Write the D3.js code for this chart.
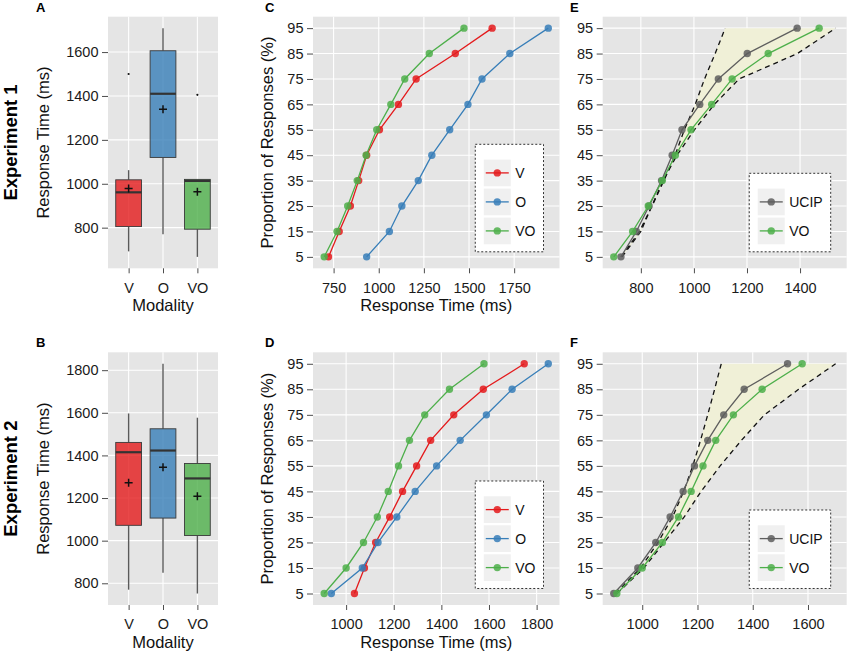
<!DOCTYPE html>
<html>
<head>
<meta charset="utf-8">
<script src="https://cdn.jsdelivr.net/npm/d3@7"></script>
<style>
body { margin: 0; background: #fff; }
text { font-family: "Liberation Sans", Arial, sans-serif; }
</style>
</head>
<body>
<script>
// ---- data ----
var modalities = ["V", "O", "VO"];
var levels = [5, 15, 25, 35, 45, 55, 65, 75, 85, 95];

// Experiment 1 boxplots (ms)
var exp1Min = [692, 770, 667];
var exp1Q1 = [805, 1120, 793];
var exp1Median = [961, 1410, 1013];
var exp1Q3 = [1018, 1606, 1020];
var exp1Max = [1062, 1709, 1020];
var exp1Mean = [978, 1340, 964];
var exp1Outliers = [[1500], [], [1405]];

// Experiment 2 boxplots (ms)
var exp2Min = [770, 850, 752];
var exp2Q1 = [1072, 1106, 1024];
var exp2Median = [1415, 1423, 1292];
var exp2Q3 = [1461, 1525, 1362];
var exp2Max = [1597, 1830, 1577];
var exp2Mean = [1272, 1345, 1208];
var exp2Outliers = [[], [], []];

// quantiles, Experiment 1
var exp1V = [722, 781, 843, 889, 933, 1004, 1109, 1207, 1424, 1628];
var exp1O = [933, 1059, 1128, 1219, 1294, 1393, 1494, 1572, 1726, 1939];
var exp1VO = [698, 769, 828, 881, 930, 989, 1067, 1144, 1280, 1472];
var exp1UCIP = [725, 783, 831, 878, 918, 955, 1022, 1092, 1201, 1389];
var exp1Upper = [725, 795, 842, 887, 929, 964, 1005, 1040, 1080, 1118];
var exp1Lower = [729, 800, 841, 884, 936, 1002, 1077, 1170, 1390, 1534];

// quantiles, Experiment 2
var exp2V = [1035, 1077, 1124, 1183, 1237, 1296, 1355, 1452, 1576, 1748];
var exp2O = [938, 1068, 1134, 1213, 1290, 1380, 1479, 1589, 1697, 1849];
var exp2VO = [908, 1000, 1073, 1131, 1177, 1220, 1266, 1330, 1434, 1579];
var exp2UCIP = [897, 984, 1049, 1101, 1148, 1189, 1237, 1295, 1369, 1526];
var exp2Upper = [903, 994, 1057, 1110, 1150, 1183, 1211, 1237, 1262, 1286];
var exp2Lower = [909, 1006, 1079, 1152, 1213, 1282, 1359, 1442, 1566, 1700];

var boxTicks1 = [800, 1000, 1200, 1400, 1600];
var boxTicks2 = [800, 1000, 1200, 1400, 1600, 1800];
var cdfTicks1 = [750, 1000, 1250, 1500, 1750];
var cdfTicks2 = [1000, 1200, 1400, 1600, 1800];
var raceTicks1 = [800, 1000, 1200, 1400];
var raceTicks2 = [1000, 1200, 1400, 1600];

var colors = { V: "#E41A1C", O: "#377EB8", VO: "#4DAF4A", UCIP: "#5e5e5e" };

// ---- layout ----
var svg = d3.select("body").append("svg")
	.attr("width", 850)
	.attr("height", 656);
svg.append("rect").attr("width", 850).attr("height", 656).attr("fill", "#fff");

var rows = [{ top: 16.7, bottom: 268.3 }, { top: 352.3, bottom: 605 }];
var cols = { box: [108, 218], cdf: [313, 559.5], race: [602.7, 846.7] };
var fmt = d3.format("d");

function expand(lo, hi) {
	var d = (hi - lo) * 0.05;
	return [lo - d, hi + d];
}

function styleAxis(a) {
	a.select(".domain").remove();
	a.selectAll(".tick line").attr("stroke", "#4d4d4d").attr("stroke-width", 1);
	a.selectAll(".tick text").attr("fill", "#1a1a1a").attr("font-size", 14.5);
}

function letter(x, y, s) {
	svg.append("text").attr("x", x).attr("y", y)
		.attr("font-size", 13).attr("font-weight", "bold").text(s);
}

function yTitle(g, x, h, s) {
	g.append("text")
		.attr("transform", "translate(" + x + "," + (h / 2) + ") rotate(-90)")
		.attr("text-anchor", "middle").attr("font-size", 16.5).attr("fill", "#111")
		.text(s);
}

function xTitle(g, w, h, s) {
	g.append("text").attr("x", w / 2).attr("y", h + 43)
		.attr("text-anchor", "middle").attr("font-size", 16.5).attr("fill", "#111")
		.text(s);
}

// ---- box plot panels ----
function boxPanel(row, stats, ticks, lab, expLabel) {
	var x0 = cols.box[0], w = cols.box[1] - cols.box[0];
	var h = row.bottom - row.top;
	var g = svg.append("g").attr("transform", "translate(" + x0 + "," + row.top + ")");

	var all = stats.min.concat(stats.max, d3.merge(stats.out));
	var y = d3.scaleLinear().domain(expand(d3.min(all), d3.max(all))).range([h, 0]);
	var x = d3.scalePoint().domain(modalities).range([0, w]).padding(0.6);
	var bw = x.step() * 0.75;

	g.append("rect").attr("width", w).attr("height", h).attr("fill", "#e5e5e5");
	g.selectAll(".gy").data(ticks).enter().append("line")
		.attr("x1", 0).attr("x2", w)
		.attr("y1", function(d) { return y(d); }).attr("y2", function(d) { return y(d); })
		.attr("stroke", "#fff").attr("stroke-width", 1.1);
	g.selectAll(".gx").data(modalities).enter().append("line")
		.attr("x1", function(d) { return x(d); }).attr("x2", function(d) { return x(d); })
		.attr("y1", 0).attr("y2", h)
		.attr("stroke", "#fff").attr("stroke-width", 1.1);

	modalities.forEach(function(m, i) {
		var cx = x(m);
		g.append("line").attr("x1", cx).attr("x2", cx)
			.attr("y1", y(stats.max[i])).attr("y2", y(stats.q3[i]))
			.attr("stroke", "#5a5a5a").attr("stroke-width", 1.4);
		g.append("line").attr("x1", cx).attr("x2", cx)
			.attr("y1", y(stats.q1[i])).attr("y2", y(stats.min[i]))
			.attr("stroke", "#5a5a5a").attr("stroke-width", 1.4);
		g.append("rect")
			.attr("x", cx - bw / 2).attr("width", bw)
			.attr("y", y(stats.q3[i])).attr("height", y(stats.q1[i]) - y(stats.q3[i]))
			.attr("fill", colors[m]).attr("fill-opacity", 0.8)
			.attr("stroke", "#3a3a3a").attr("stroke-width", 0.9);
		g.append("line").attr("x1", cx - bw / 2).attr("x2", cx + bw / 2)
			.attr("y1", y(stats.med[i])).attr("y2", y(stats.med[i]))
			.attr("stroke", "#333").attr("stroke-width", 2.2);
		var my = y(stats.mean[i]);
		g.append("path")
			.attr("d", "M" + (cx - 4) + "," + my + "H" + (cx + 4) + "M" + cx + "," + (my - 4) + "V" + (my + 4))
			.attr("stroke", "#111").attr("stroke-width", 1.5);
		stats.out[i].forEach(function(v) {
			g.append("circle").attr("cx", cx).attr("cy", y(v)).attr("r", 1.1).attr("fill", "#111");
		});
	});

	var ay = g.append("g").call(d3.axisLeft(y).tickValues(ticks).tickFormat(fmt).tickSize(6).tickPadding(3.5));
	styleAxis(ay);
	var ax = g.append("g").attr("transform", "translate(0," + h + ")")
		.call(d3.axisBottom(x).tickSize(5).tickPadding(9));
	styleAxis(ax);

	yTitle(g, -59, h, "Response Time (ms)");
	xTitle(g, w, h, "Modality");

	g.append("text")
		.attr("transform", "translate(" + (-91.5) + "," + (h / 2) + ") rotate(-90)")
		.attr("text-anchor", "middle").attr("font-size", 18.5).attr("font-weight", "bold")
		.text(expLabel);
	letter(36, row.top - 5, lab);
}

// ---- quantile panels ----
function cdfPanel(row, col, series, ticks, opts) {
	var x0 = col[0], w = col[1] - col[0];
	var h = row.bottom - row.top;
	var g = svg.append("g").attr("transform", "translate(" + x0 + "," + row.top + ")");

	var vals = d3.merge(series.map(function(s) { return s.vals; }));
	if (opts.bounds) vals = vals.concat(opts.bounds[0], opts.bounds[1]);
	var x = d3.scaleLinear().domain(expand(d3.min(vals), d3.max(vals))).range([0, w]);
	var y = d3.scaleLinear().domain(expand(5, 95)).range([h, 0]);

	g.append("rect").attr("width", w).attr("height", h).attr("fill", "#e5e5e5");
	g.selectAll(".gy").data(levels).enter().append("line")
		.attr("x1", 0).attr("x2", w)
		.attr("y1", function(d) { return y(d); }).attr("y2", function(d) { return y(d); })
		.attr("stroke", "#fff").attr("stroke-width", 1.1);
	g.selectAll(".gx").data(ticks).enter().append("line")
		.attr("x1", function(d) { return x(d); }).attr("x2", function(d) { return x(d); })
		.attr("y1", 0).attr("y2", h)
		.attr("stroke", "#fff").attr("stroke-width", 1.1);

	var line = d3.line().x(function(d) { return x(d[0]); }).y(function(d) { return y(d[1]); });

	if (opts.bounds) {
		var up = opts.bounds[0], lo = opts.bounds[1];
		var poly = levels.map(function(l, i) { return [x(up[i]), y(l)]; })
			.concat(levels.map(function(l, i) { return [x(lo[i]), y(l)]; }).reverse());
		g.append("path").attr("d", "M" + poly.join("L") + "Z")
			.attr("fill", "#f0f0d7");
		[up, lo].forEach(function(b) {
			g.append("path")
				.attr("d", line(d3.zip(b, levels)))
				.attr("fill", "none").attr("stroke", "#111").attr("stroke-width", 1.3)
				.attr("stroke-dasharray", "5,4");
		});
	}

	series.forEach(function(s) {
		g.append("path").attr("d", line(d3.zip(s.vals, levels)))
			.attr("fill", "none").attr("stroke", colors[s.name]).attr("stroke-width", 1.3);
		g.selectAll(null).data(d3.zip(s.vals, levels)).enter().append("circle")
			.attr("cx", function(d) { return x(d[0]); })
			.attr("cy", function(d) { return y(d[1]); })
			.attr("r", 3.7).attr("fill", colors[s.name]).attr("fill-opacity", 0.85);
	});

	var ay = g.append("g").call(d3.axisLeft(y).tickValues(levels).tickSize(6).tickPadding(3.5));
	styleAxis(ay);
	var ax = g.append("g").attr("transform", "translate(0," + h + ")")
		.call(d3.axisBottom(x).tickValues(ticks).tickFormat(fmt).tickSize(5).tickPadding(9));
	styleAxis(ax);

	if (opts.yTitle) yTitle(g, -40, h, "Proportion of Responses (%)");
	if (opts.xTitle) xTitle(g, w, h, "Response Time (ms)");

	// legend, anchored bottom right
	var lg = g.append("g");
	var labels = lg.selectAll(null).data(series).enter().append("text")
		.attr("font-size", 14).attr("fill", "#111").text(function(d) { return d.name; });
	var tw = d3.max(labels.nodes(), function(n) { return n.getComputedTextLength(); });
	var lw = 8.5 + 27 + 4.5 + tw + 8, lh = 15.3 + series.length * 29 - 2.3 + 7.5;
	var lx = w - 16 - lw, ly = h - 16.5 - lh;
	lg.insert("rect", "text").attr("x", lx).attr("y", ly).attr("width", lw).attr("height", lh)
		.attr("fill", "#fff").attr("stroke", "#333").attr("stroke-width", 1).attr("stroke-dasharray", "2,2");
	series.forEach(function(s, i) {
		var ky = ly + 15.3 + i * 29, kx = lx + 8.5;
		lg.insert("rect", "text").attr("x", kx).attr("y", ky).attr("width", 27).attr("height", 26.7).attr("fill", "#f0f0f0");
		lg.append("line").attr("x1", kx + 2).attr("x2", kx + 25)
			.attr("y1", ky + 13.3).attr("y2", ky + 13.3)
			.attr("stroke", colors[s.name]).attr("stroke-width", 1.3);
		lg.append("circle").attr("cx", kx + 13.5).attr("cy", ky + 13.3).attr("r", 3.7)
			.attr("fill", colors[s.name]).attr("fill-opacity", 0.85);
	});
	labels.attr("x", lx + 8.5 + 27 + 4.5)
		.attr("y", function(d, i) { return ly + 15.3 + i * 29 + 18.3; });

	letter(opts.lx, row.top - 5, opts.letter);
}

boxPanel(rows[0], { min: exp1Min, q1: exp1Q1, med: exp1Median, q3: exp1Q3, max: exp1Max, mean: exp1Mean, out: exp1Outliers },
	boxTicks1, "A", "Experiment 1");
boxPanel(rows[1], { min: exp2Min, q1: exp2Q1, med: exp2Median, q3: exp2Q3, max: exp2Max, mean: exp2Mean, out: exp2Outliers },
	boxTicks2, "B", "Experiment 2");

cdfPanel(rows[0], cols.cdf,
	[{ name: "V", vals: exp1V }, { name: "O", vals: exp1O }, { name: "VO", vals: exp1VO }],
	cdfTicks1, { yTitle: true, xTitle: true, letter: "C", lx: 265 });
cdfPanel(rows[1], cols.cdf,
	[{ name: "V", vals: exp2V }, { name: "O", vals: exp2O }, { name: "VO", vals: exp2VO }],
	cdfTicks2, { yTitle: true, xTitle: true, letter: "D", lx: 265 });

cdfPanel(rows[0], cols.race,
	[{ name: "UCIP", vals: exp1UCIP }, { name: "VO", vals: exp1VO }],
	raceTicks1, { bounds: [exp1Upper, exp1Lower], letter: "E", lx: 570 });
cdfPanel(rows[1], cols.race,
	[{ name: "UCIP", vals: exp2UCIP }, { name: "VO", vals: exp2VO }],
	raceTicks2, { bounds: [exp2Upper, exp2Lower], letter: "F", lx: 570 });
</script>
</body>
</html>
